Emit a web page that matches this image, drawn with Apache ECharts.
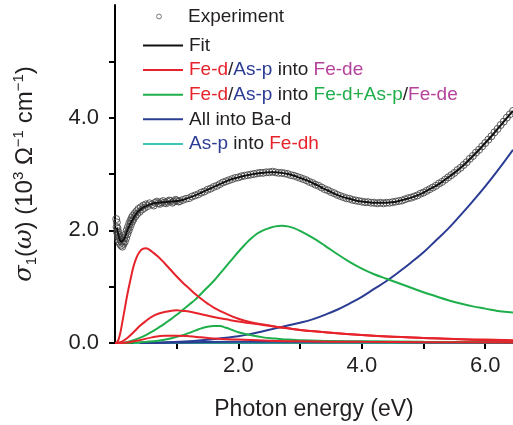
<!DOCTYPE html>
<html>
<head>
<meta charset="utf-8">
<script src="https://cdn.jsdelivr.net/npm/echarts@6/dist/echarts.min.js"></script>
<style>
  html, body { margin: 0; padding: 0; background: #fff; }
  #chart { width: 513px; height: 425px; }
</style>
</head>
<body>
<div id="chart"></div>
<script>
// Measured optical conductivity (open circles)
const expEnergy = [
  0.02, 0.025, 0.03, 0.035, 0.04, 0.045, 0.05, 0.055, 0.06, 0.065, 0.07, 0.08, 0.09, 0.10,
  0.11, 0.12, 0.13, 0.14, 0.15, 0.16, 0.17, 0.18, 0.19, 0.20, 0.21, 0.22, 0.23, 0.24, 0.25,
  0.26, 0.27, 0.28, 0.29, 0.30, 0.32, 0.33, 0.35, 0.36, 0.38, 0.40, 0.42, 0.44, 0.46, 0.48,
  0.50, 0.53, 0.56, 0.60, 0.63, 0.65, 0.68, 0.70, 0.73, 0.75, 0.78, 0.80, 0.83, 0.85, 0.88,
  0.90, 0.93, 0.95, 0.98, 1.00, 1.03, 1.05, 1.10, 1.15, 1.20, 1.25, 1.30, 1.35, 1.40, 1.45,
  1.50, 1.55, 1.60, 1.65, 1.70, 1.75, 1.80, 1.85, 1.90, 1.95, 2.00, 2.05, 2.10, 2.15, 2.20,
  2.25, 2.30, 2.35, 2.40, 2.45, 2.50, 2.55, 2.60, 2.65, 2.70, 2.75, 2.80, 2.85, 2.90, 2.95,
  3.00, 3.05, 3.10, 3.15, 3.20, 3.25, 3.30, 3.35, 3.40, 3.45, 3.50, 3.55, 3.60, 3.65, 3.70,
  3.75, 3.80, 3.85, 3.90, 3.95, 4.00, 4.05, 4.10, 4.15, 4.20, 4.25, 4.30, 4.35, 4.40, 4.45,
  4.50, 4.55, 4.60, 4.65, 4.70, 4.75, 4.80, 4.85, 4.90, 4.95, 5.00, 5.05, 5.10, 5.15, 5.20,
  5.25, 5.30, 5.35, 5.40, 5.45, 5.50, 5.55, 5.60, 5.65, 5.70, 5.75, 5.80, 5.85, 5.90, 5.95,
  6.00, 6.05, 6.10, 6.15, 6.20, 6.25, 6.30, 6.35, 6.40, 6.45
];
const expSigma = [
  2.20, 2.06, 2.14, 1.96, 2.04, 1.90, 1.98, 1.84, 1.92, 1.80, 1.88, 1.76, 1.84, 1.73,
  1.80, 1.71, 1.80, 1.76, 1.87, 1.80, 1.93, 1.86, 2.00, 1.93, 2.06, 1.99, 2.12, 2.05, 2.17,
  2.11, 2.22, 2.16, 2.26, 2.20, 2.30, 2.25, 2.34, 2.29, 2.38, 2.33, 2.41, 2.37, 2.44, 2.40,
  2.46, 2.43, 2.48, 2.46, 2.44, 2.49, 2.51, 2.48, 2.47, 2.50, 2.52, 2.49, 2.48, 2.51, 2.53,
  2.52, 2.49, 2.51, 2.54, 2.53, 2.51, 2.52, 2.54, 2.56, 2.57, 2.60, 2.62, 2.64, 2.67, 2.69,
  2.72, 2.74, 2.77, 2.79, 2.82, 2.85, 2.87, 2.89, 2.91, 2.93, 2.94, 2.96, 2.97, 2.98, 2.99,
  3.00, 3.01, 3.02, 3.02, 3.03, 3.03, 3.04, 3.03, 3.02, 3.02, 3.01, 3.00, 2.98, 2.97, 2.95,
  2.93, 2.91, 2.89, 2.86, 2.84, 2.81, 2.79, 2.76, 2.73, 2.71, 2.68, 2.66, 2.63, 2.61, 2.59,
  2.57, 2.56, 2.54, 2.53, 2.52, 2.51, 2.50, 2.50, 2.49, 2.49, 2.48, 2.49, 2.48, 2.49, 2.49,
  2.50, 2.51, 2.52, 2.53, 2.55, 2.57, 2.58, 2.60, 2.62, 2.65, 2.67, 2.70, 2.73, 2.76, 2.79,
  2.83, 2.86, 2.90, 2.94, 2.98, 3.02, 3.07, 3.11, 3.16, 3.21, 3.27, 3.32, 3.38, 3.43, 3.49,
  3.55, 3.61, 3.67, 3.74, 3.80, 3.87, 3.93, 4.00, 4.06, 4.12
];

// Total fit
const fitEnergy = [0.03, 0.06, 0.10, 0.15, 0.20, 0.25, 0.30, 0.35, 0.40, 0.50, 0.60, 0.70, 0.80,
  0.90, 1.00, 1.10, 1.20, 1.30, 1.40, 1.50, 1.60, 1.70, 1.80, 1.90, 2.00, 2.10, 2.20, 2.30,
  2.40, 2.50, 2.60, 2.70, 2.80, 2.90, 3.00, 3.10, 3.20, 3.30, 3.40, 3.50, 3.60, 3.70, 3.80,
  3.90, 4.00, 4.10, 4.20, 4.30, 4.40, 4.50, 4.60, 4.70, 4.80, 4.90, 5.00, 5.10, 5.20, 5.30,
  5.40, 5.50, 5.60, 5.70, 5.80, 5.90, 6.00, 6.10, 6.20, 6.30, 6.40, 6.45];
const fitSigma = [2.05, 1.90, 1.80, 1.85, 2.00, 2.12, 2.22, 2.30, 2.36, 2.43, 2.47, 2.49, 2.50,
  2.51, 2.52, 2.54, 2.58, 2.62, 2.67, 2.72, 2.77, 2.82, 2.87, 2.91, 2.94, 2.97, 2.99, 3.01,
  3.02, 3.03, 3.03, 3.02, 3.00, 2.97, 2.93, 2.89, 2.84, 2.79, 2.73, 2.68, 2.63, 2.59, 2.56,
  2.53, 2.51, 2.50, 2.49, 2.49, 2.49, 2.50, 2.52, 2.55, 2.58, 2.62, 2.67, 2.73, 2.79, 2.86,
  2.94, 3.02, 3.11, 3.21, 3.32, 3.43, 3.55, 3.67, 3.80, 3.93, 4.06, 4.12];

// Fe-d/As-p into Fe-de (three red terms)
const red1Energy = [0, 0.04, 0.08, 0.12, 0.16, 0.20, 0.25, 0.30, 0.35, 0.40, 0.45, 0.50, 0.55,
  0.60, 0.70, 0.80, 0.90, 1.00, 1.10, 1.20, 1.30, 1.40, 1.50, 1.60, 1.80, 2.00, 2.20, 2.40,
  2.60, 2.80, 3.00, 3.50, 4.00, 4.50, 5.00, 5.50, 6.00, 6.45];
const red1Sigma = [0, 0.02, 0.15, 0.38, 0.62, 0.86, 1.12, 1.36, 1.52, 1.62, 1.67, 1.68, 1.66,
  1.62, 1.53, 1.42, 1.30, 1.18, 1.07, 0.97, 0.87, 0.78, 0.70, 0.63, 0.52, 0.43, 0.37, 0.33,
  0.29, 0.26, 0.23, 0.18, 0.14, 0.11, 0.09, 0.07, 0.05, 0.04];
const red2Energy = [0, 0.10, 0.20, 0.30, 0.40, 0.50, 0.60, 0.70, 0.80, 0.90, 1.00, 1.10, 1.20,
  1.40, 1.60, 1.80, 2.00, 2.20, 2.40, 2.60, 2.80, 3.00, 3.50, 4.00, 4.50, 5.00, 5.50, 6.00, 6.45];
const red2Sigma = [0, 0.02, 0.09, 0.19, 0.30, 0.39, 0.47, 0.52, 0.55, 0.57, 0.58, 0.57, 0.56,
  0.51, 0.46, 0.42, 0.38, 0.35, 0.32, 0.29, 0.26, 0.23, 0.18, 0.14, 0.11, 0.09, 0.07, 0.06, 0.05];
const red3Energy = [0, 0.20, 0.40, 0.60, 0.80, 1.00, 1.20, 1.40, 1.60, 2.00, 2.50, 3.00, 4.00, 5.00, 6.45];
const red3Sigma = [0, 0.01, 0.05, 0.10, 0.13, 0.13, 0.12, 0.10, 0.08, 0.06, 0.04, 0.03, 0.02, 0.015, 0.01];

// Fe-d/As-p into Fe-d+As-p/Fe-de (two green terms)
const green1Energy = [0, 0.10, 0.20, 0.30, 0.40, 0.50, 0.60, 0.70, 0.80, 0.90, 1.00, 1.10, 1.20,
  1.30, 1.40, 1.50, 1.60, 1.70, 1.80, 1.90, 2.00, 2.10, 2.20, 2.30, 2.40, 2.50, 2.60, 2.70,
  2.80, 2.90, 3.00, 3.20, 3.40, 3.60, 3.80, 4.00, 4.20, 4.40, 4.60, 4.80, 5.00, 5.20, 5.40,
  5.60, 5.80, 6.00, 6.20, 6.45];
const green1Sigma = [0, 0.005, 0.02, 0.05, 0.09, 0.14, 0.20, 0.27, 0.34, 0.42, 0.50, 0.59, 0.68,
  0.77, 0.88, 0.99, 1.10, 1.23, 1.36, 1.49, 1.62, 1.74, 1.85, 1.94, 2.00, 2.04, 2.07, 2.08,
  2.07, 2.04, 1.99, 1.87, 1.73, 1.58, 1.44, 1.32, 1.22, 1.14, 1.06, 0.98, 0.90, 0.83, 0.76,
  0.70, 0.65, 0.61, 0.57, 0.54];
const green2Energy = [0, 0.30, 0.50, 0.70, 0.90, 1.10, 1.30, 1.40, 1.50, 1.60, 1.70, 1.80, 1.90,
  2.00, 2.20, 2.40, 2.60, 2.80, 3.00, 3.50, 4.00, 5.00, 6.45];
const green2Sigma = [0, 0.005, 0.02, 0.04, 0.08, 0.14, 0.22, 0.26, 0.29, 0.30, 0.30, 0.27, 0.23,
  0.19, 0.14, 0.10, 0.08, 0.06, 0.05, 0.035, 0.03, 0.02, 0.015];

// All into Ba-d (blue)
const blue1Energy = [0.40, 0.80, 1.20, 1.60, 2.00, 2.20, 2.40, 2.60, 2.80, 3.00, 3.20, 3.40,
  3.60, 3.80, 4.00, 4.20, 4.40, 4.60, 4.80, 5.00, 5.20, 5.40, 5.60, 5.80, 6.00, 6.20, 6.45];
const blue1Sigma = [0, 0.01, 0.03, 0.07, 0.12, 0.16, 0.21, 0.26, 0.31, 0.36, 0.42, 0.50,
  0.59, 0.70, 0.82, 0.96, 1.10, 1.26, 1.43, 1.61, 1.82, 2.03, 2.27, 2.52, 2.78, 3.06, 3.43];
const blue2Energy = [0.50, 1.00, 2.00, 3.00, 4.00, 5.00, 6.45];
const blue2Sigma = [0, 0.01, 0.02, 0.02, 0.02, 0.015, 0.01];

// As-p into Fe-dh (cyan)
const cyanEnergy = [0.30, 1.00, 2.00, 3.00, 4.00, 5.00, 6.45];
const cyanSigma = [0, 0.004, 0.006, 0.006, 0.005, 0.004, 0.003];

const xTicks = [1, 2, 3, 4, 5, 6];
const xLabels = [2, 4, 6];
const yTicks = [0, 1, 2, 3, 4, 5];
const yLabels = [0, 2, 4];

const NAMES = {
  exp: 'Experiment',
  fit: 'Fit',
  red: 'Fe-d/As-p into Fe-de',
  green: 'Fe-d/As-p into Fe-d+As-p/Fe-de',
  blue: 'All into Ba-d',
  cyan: 'As-p into Fe-dh'
};

const C = {
  red: '#e6232b',
  green: '#1eaf4b',
  blue: '#2b3c94',
  cyan: '#3cc6b4',
  magenta: '#b5429b',
  text: '#231f20'
};

const FONT = '"Liberation Sans", Arial, Helvetica, sans-serif';

function pairs(xs, ys) {
  return xs.map((x, i) => [x, ys[i]]);
}

function curve(name, xs, ys, color) {
  return {
    name: name,
    type: 'line',
    data: pairs(xs, ys),
    smooth: 0.4,
    symbol: 'none',
    showSymbol: false,
    lineStyle: { color: color, width: 2 },
    itemStyle: { color: color },
    clip: true,
    animation: false
  };
}

const LF = 19;
const legendRich = {
  k: { color: C.text, fontSize: LF, fontFamily: FONT, lineHeight: 18 },
  r: { color: C.red, fontSize: LF, fontFamily: FONT, lineHeight: 18 },
  g: { color: C.green, fontSize: LF, fontFamily: FONT, lineHeight: 18 },
  b: { color: C.blue, fontSize: LF, fontFamily: FONT, lineHeight: 18 },
  m: { color: C.magenta, fontSize: LF, fontFamily: FONT, lineHeight: 18 }
};

const legendText = {};
legendText[NAMES.exp] = '{k|Experiment}';
legendText[NAMES.fit] = '{k|Fit}';
legendText[NAMES.red] = '{r|Fe-d}{k|/}{b|As-p}{k| into }{m|Fe-de}';
legendText[NAMES.green] = '{r|Fe-d}{k|/}{b|As-p}{k| into }{g|Fe-d+As-p}{k|/}{m|Fe-de}';
legendText[NAMES.blue] = '{k|All into Ba-d}';
legendText[NAMES.cyan] = '{b|As-p}{k| into }{r|Fe-dh}';

const chart = echarts.init(document.getElementById('chart'), null, { renderer: 'canvas' });

const option = {
  backgroundColor: '#ffffff',
  animation: false,
  textStyle: { fontFamily: FONT },
  grid: {
    left: 115, right: 0, top: 5, bottom: 82,
    containLabel: false,
    outerBoundsMode: 'none'
  },
  legend: [
    {
      data: [{
        name: NAMES.exp,
        lineStyle: { color: 'rgba(0,0,0,0)', width: 0 },
        itemStyle: { color: 'rgba(255,255,255,0)', borderColor: '#555', borderWidth: 0.8 }
      }],
      left: 134, top: 2,
      orient: 'vertical',
      itemWidth: 40, itemHeight: 6,
      selectedMode: false,
      formatter: (n) => legendText[n],
      textStyle: { padding: [0, 0, 0, 4], rich: legendRich }
    },
    {
      data: [NAMES.fit, NAMES.red, NAMES.green, NAMES.blue, NAMES.cyan].map((n) => ({
        name: n,
        itemStyle: { opacity: 0 }
      })),
      left: 137, top: 31,
      orient: 'vertical',
      itemWidth: 40, itemHeight: 14, itemGap: 5.6,
      selectedMode: false,
      formatter: (n) => legendText[n],
      textStyle: { padding: [0, 0, 0, 1], rich: legendRich }
    }
  ],
  xAxis: {
    type: 'value',
    min: 0, max: 6.45,
    name: 'Photon energy (eV)',
    nameLocation: 'middle',
    nameGap: 55,
    nameTextStyle: { fontSize: 23, color: C.text, fontFamily: FONT },
    axisLine: { show: true, onZero: false, lineStyle: { color: '#000', width: 2 } },
    axisTick: { show: true, inside: false, length: 6, customValues: xTicks, lineStyle: { color: '#000', width: 2 } },
    axisLabel: {
      customValues: xLabels,
      formatter: (v) => v.toFixed(1),
      fontSize: 22, color: C.text, margin: 12, fontFamily: FONT
    },
    splitLine: { show: false }
  },
  yAxis: {
    type: 'value',
    min: 0, max: 6,
    name: '{i|σ}{sub|1}{n|(}{i|ω}{n|) (10}{sup|3}{n| Ω}{sup|−1}{n| cm}{sup|−1}{n|)}',
    nameLocation: 'middle',
    nameRotate: 90,
    nameGap: 76,
    nameTextStyle: {
      rich: {
        n: { fontSize: 24, color: C.text, fontFamily: FONT, lineHeight: 28 },
        i: { fontSize: 24, color: C.text, fontFamily: '"DejaVu Serif", "Liberation Serif", serif', fontStyle: 'italic', lineHeight: 28 },
        sub: { fontSize: 15, color: C.text, fontFamily: FONT, lineHeight: 10, verticalAlign: 'bottom' },
        sup: { fontSize: 15, color: C.text, fontFamily: FONT, lineHeight: 15, verticalAlign: 'top' }
      }
    },
    axisLine: { show: true, onZero: false, lineStyle: { color: '#000', width: 2 } },
    axisTick: { show: true, inside: false, length: 6, customValues: yTicks, lineStyle: { color: '#000', width: 2 } },
    axisLabel: {
      customValues: yLabels,
      formatter: (v) => v.toFixed(1),
      fontSize: 22, color: C.text, margin: 16, fontFamily: FONT
    },
    splitLine: { show: false }
  },
  series: [
    {
      name: NAMES.exp,
      type: 'line',
      data: pairs(expEnergy, expSigma),
      symbol: 'circle',
      symbolSize: 7,
      showSymbol: true,
      showAllSymbol: true,
      lineStyle: { width: 0, opacity: 0 },
      itemStyle: { color: 'rgba(255,255,255,0)', borderColor: '#4a4a4a', borderWidth: 0.9 },
      clip: true,
      animation: false,
      z: 2
    },
    Object.assign(curve(NAMES.fit, fitEnergy, fitSigma, '#111'), { z: 3 }),
    curve(NAMES.cyan, cyanEnergy, cyanSigma, C.cyan),
    curve(NAMES.blue, blue2Energy, blue2Sigma, C.blue),
    curve(NAMES.blue, blue1Energy, blue1Sigma, C.blue),
    curve(NAMES.green, green2Energy, green2Sigma, C.green),
    curve(NAMES.green, green1Energy, green1Sigma, C.green),
    curve(NAMES.red, red3Energy, red3Sigma, C.red),
    curve(NAMES.red, red2Energy, red2Sigma, C.red),
    curve(NAMES.red, red1Energy, red1Sigma, C.red)
  ]
};

chart.setOption(option);
</script>
</body>
</html>
